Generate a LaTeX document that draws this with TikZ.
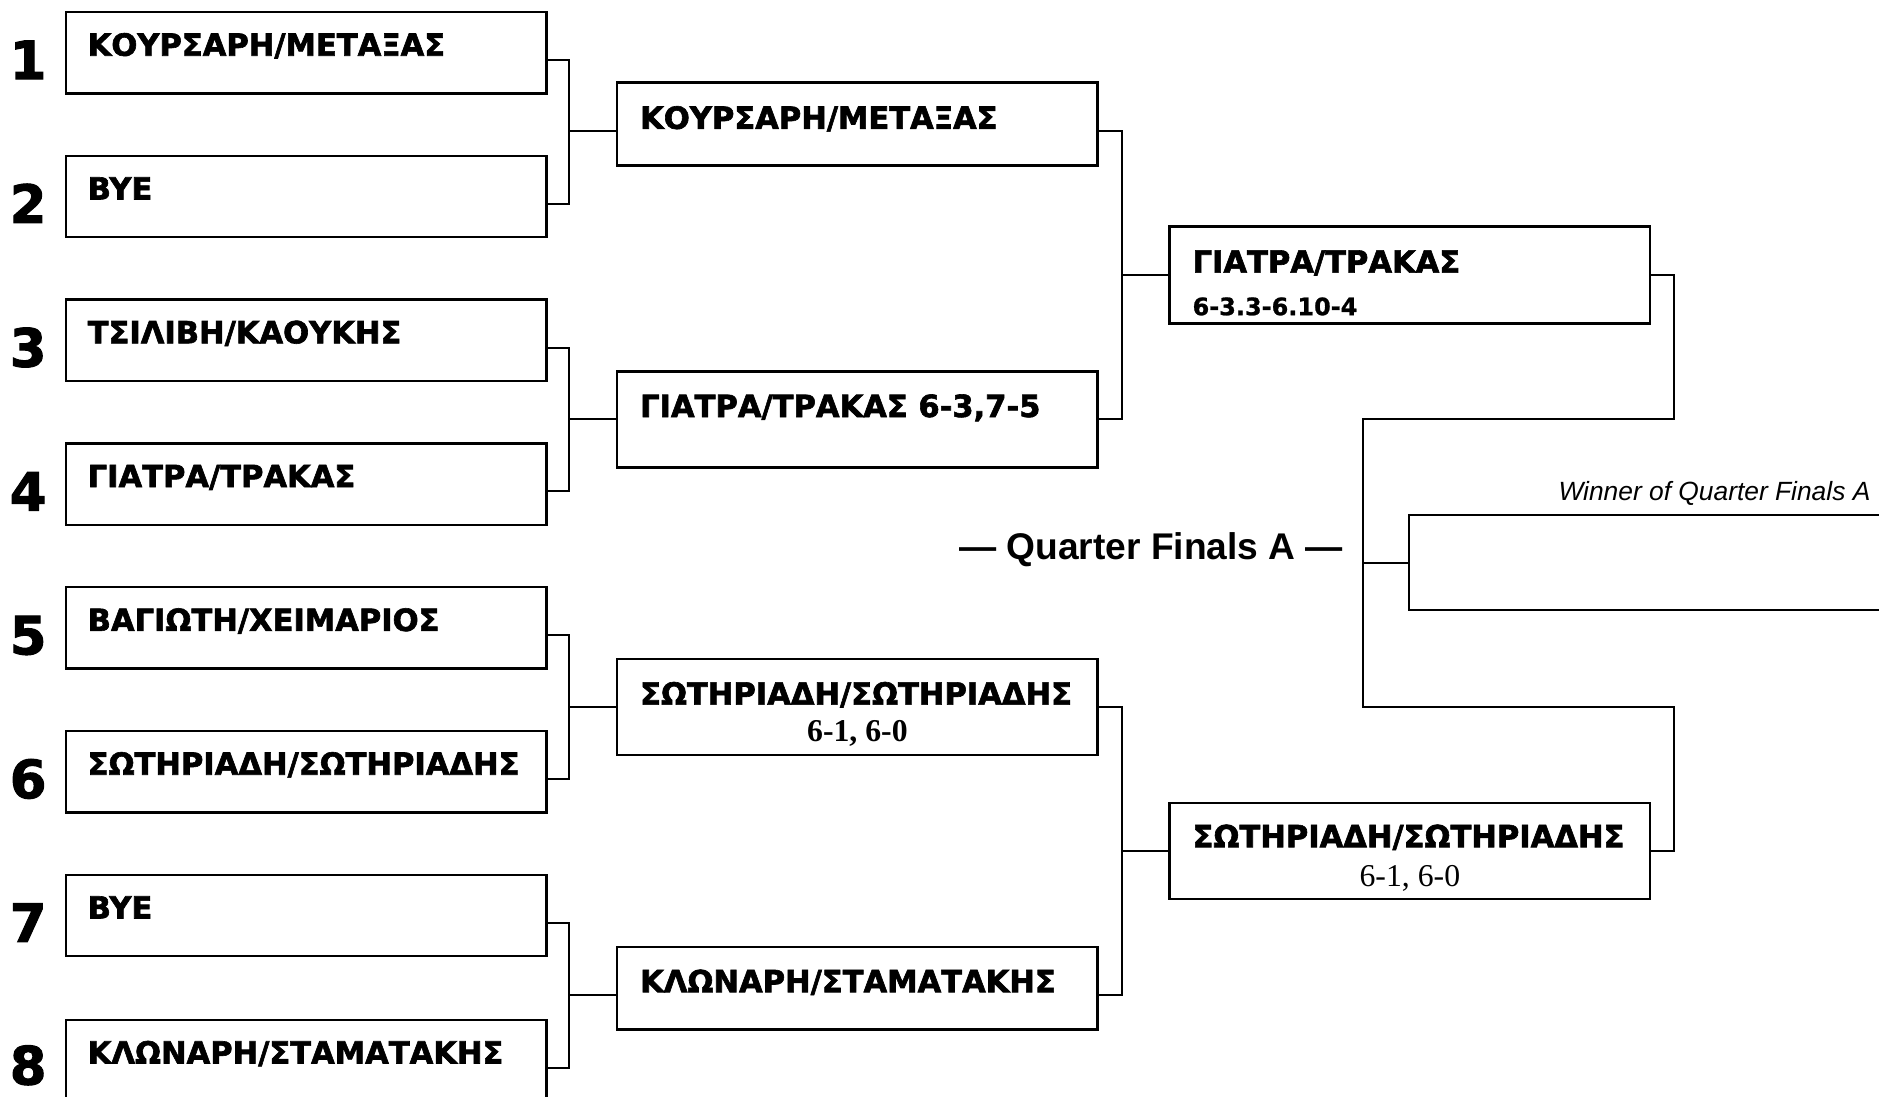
\documentclass[tikz,border=0pt]{standalone}
\usepackage{fontspec}
\usetikzlibrary{calc}
\newfontfamily\namefont{DejaVu Sans}[BoldFeatures={FakeBold=2}]
\newfontfamily\scorefont{DejaVu Sans}[BoldFeatures={FakeBold=1}]
\newfontfamily\arialfont{Liberation Sans}
\newfontfamily\timesfont{Liberation Serif}
\begin{document}
\begin{tikzpicture}[x=1pt,y=-1pt,
  box/.style={draw,line width=2pt,rectangle,inner sep=0pt,outer sep=0pt,anchor=north west,minimum width=401pt},
  conn/.style={line width=1.7pt},
  pname/.style={anchor=base west,inner sep=0pt,font=\namefont\bfseries\fontsize{25.5}{28}\selectfont},
  seed/.style={anchor=base,inner sep=0pt,font=\namefont\bfseries\fontsize{44}{48}\selectfont}]
\useasboundingbox (0,0) rectangle (1568,915);
\clip (0,0) rectangle (1568,915);
% round 1
\node[box,minimum height=68pt] (b1) at (55,10) {};
\node[box,minimum height=68pt] (b2) at (55,130) {};
\node[box,minimum height=68pt] (b3) at (55,250) {};
\node[box,minimum height=68pt] (b4) at (55,370) {};
\node[box,minimum height=68pt] (b5) at (55,490) {};
\node[box,minimum height=68pt] (b6) at (55,610) {};
\node[box,minimum height=68pt] (b7) at (55,730) {};
\node[box,minimum height=68pt] (b8) at (55,851) {};
% round 2
\node[box,minimum height=69pt] (r2a) at (515,69) {};
\node[box,minimum height=80pt] (r2b) at (515,310) {};
\node[box,minimum height=80pt] (r2c) at (515,550) {};
\node[box,minimum height=69pt] (r2d) at (515,790) {};
% round 3
\node[box,minimum height=81pt] (r3a) at (976,189) {};
\node[box,minimum height=80pt] (r3b) at (976,670) {};
% final
\node[box,minimum height=79pt,minimum width=500pt] (fin) at (1176,430) {};
% names
\node[pname] (t1) at ($(b1.north west)+(18,36.5)$) {ΚΟΥΡΣΑΡΗ/ΜΕΤΑΞΑΣ};
\node[pname] (t2) at ($(b2.north west)+(18,36.5)$) {BYE};
\node[pname] (t3) at ($(b3.north west)+(18,36.5)$) {ΤΣΙΛΙΒΗ/ΚΑΟΥΚΗΣ};
\node[pname] (t4) at ($(b4.north west)+(18,36.5)$) {ΓΙΑΤΡΑ/ΤΡΑΚΑΣ};
\node[pname] (t5) at ($(b5.north west)+(18,36.5)$) {ΒΑΓΙΩΤΗ/ΧΕΙΜΑΡΙΟΣ};
\node[pname] (t6) at ($(b6.north west)+(18,36.5)$) {ΣΩΤΗΡΙΑΔΗ/ΣΩΤΗΡΙΑΔΗΣ};
\node[pname] (t7) at ($(b7.north west)+(18,36.5)$) {BYE};
\node[pname] (t8) at ($(b8.north west)+(18,36.5)$) {ΚΛΩΝΑΡΗ/ΣΤΑΜΑΤΑΚΗΣ};
\node[pname] (u1) at ($(r2a.north west)+(19,38.5)$) {ΚΟΥΡΣΑΡΗ/ΜΕΤΑΞΑΣ};
\node[pname] (u2) at ($(r2b.north west)+(19,38)$) {ΓΙΑΤΡΑ/ΤΡΑΚΑΣ 6-3,7-5};
\node[pname] (u3) at ($(r2c.north west)+(19,38)$) {ΣΩΤΗΡΙΑΔΗ/ΣΩΤΗΡΙΑΔΗΣ};
\node[pname] (u4) at ($(r2d.north west)+(19,38)$) {ΚΛΩΝΑΡΗ/ΣΤΑΜΑΤΑΚΗΣ};
\node[pname] (v1) at ($(r3a.north west)+(19,38.5)$) {ΓΙΑΤΡΑ/ΤΡΑΚΑΣ};
\node[pname] (v2) at ($(r3b.north west)+(19,37)$) {ΣΩΤΗΡΙΑΔΗ/ΣΩΤΗΡΙΑΔΗΣ};
% scores
\node[anchor=base west,inner sep=0pt,font=\scorefont\bfseries\fontsize{20}{22}\selectfont] (s1) at ($(r3a.north west)+(19,74)$) {6-3.3-6.10-4};
\node[anchor=base,inner sep=0pt,font=\timesfont\bfseries\fontsize{26.5}{28}\selectfont] (s2) at ($(r2c.north)+(0,69)$) {6-1, 6-0};
\node[anchor=base,inner sep=0pt,font=\timesfont\fontsize{26.5}{28}\selectfont] (s3) at ($(r3b.north)+(0,70)$) {6-1, 6-0};
% seeds
\node[seed] (n1) at ($(b1.north west)+(-31.5,56)$) {1};
\node[seed] (n2) at ($(b2.north west)+(-31.5,56)$) {2};
\node[seed] (n3) at ($(b3.north west)+(-31.5,56)$) {3};
\node[seed] (n4) at ($(b4.north west)+(-31.5,56)$) {4};
\node[seed] (n5) at ($(b5.north west)+(-31.5,56)$) {5};
\node[seed] (n6) at ($(b6.north west)+(-31.5,56)$) {6};
\node[seed] (n7) at ($(b7.north west)+(-31.5,56)$) {7};
\node[seed] (n8) at ($(b8.north west)+(-31.5,54)$) {8};
% labels
\node[anchor=base east,inner sep=0pt,font=\arialfont\bfseries\fontsize{31}{34}\selectfont] (qf) at (1121,467) {— Quarter Finals A —};
\node[anchor=base east,inner sep=0pt,font=\arialfont\itshape\fontsize{22}{24}\selectfont] (win) at (1561,418) {Winner of Quarter Finals A};
% connectors round 1
\draw[conn] ($(b1.east)+(0,6)$) -- ++(19,0) |- ($(b2.east)+(0,6)$);
\draw[conn] ($(r2a.west)+(0,5.5)$) -- ++(-40,0);
\draw[conn] ($(b3.east)+(0,6)$) -- ++(19,0) |- ($(b4.east)+(0,6)$);
\draw[conn] (r2b.west) -- ++(-40,0);
\draw[conn] ($(b5.east)+(0,6)$) -- ++(19,0) |- ($(b6.east)+(0,6)$);
\draw[conn] (r2c.west) -- ++(-40,0);
\draw[conn] ($(b7.east)+(0,6)$) -- ++(19,0) |- ($(b8.east)+(0,6)$);
\draw[conn] ($(r2d.west)+(0,6)$) -- ++(-40,0);
% connectors round 2
\draw[conn] ($(r2a.east)+(0,5.5)$) -- ++(20,0) |- (r2b.east);
\draw[conn] (r3a.west) -- ++(-40,0);
\draw[conn] (r2c.east) -- ++(20,0) |- ($(r2d.east)+(0,6)$);
\draw[conn] (r3b.west) -- ++(-40,0);
% connectors round 3
\coordinate (qa) at (1137,349.5);
\coordinate (qb) at (1137,590);
\draw[conn] (r3a.east) -- ++(20,0) |- (qa) -- (qb) -| ($(r3b.east)+(20,0)$) -- (r3b.east);
\draw[conn] (fin.west) -- ++(-39,0);
\end{tikzpicture}
\end{document}
